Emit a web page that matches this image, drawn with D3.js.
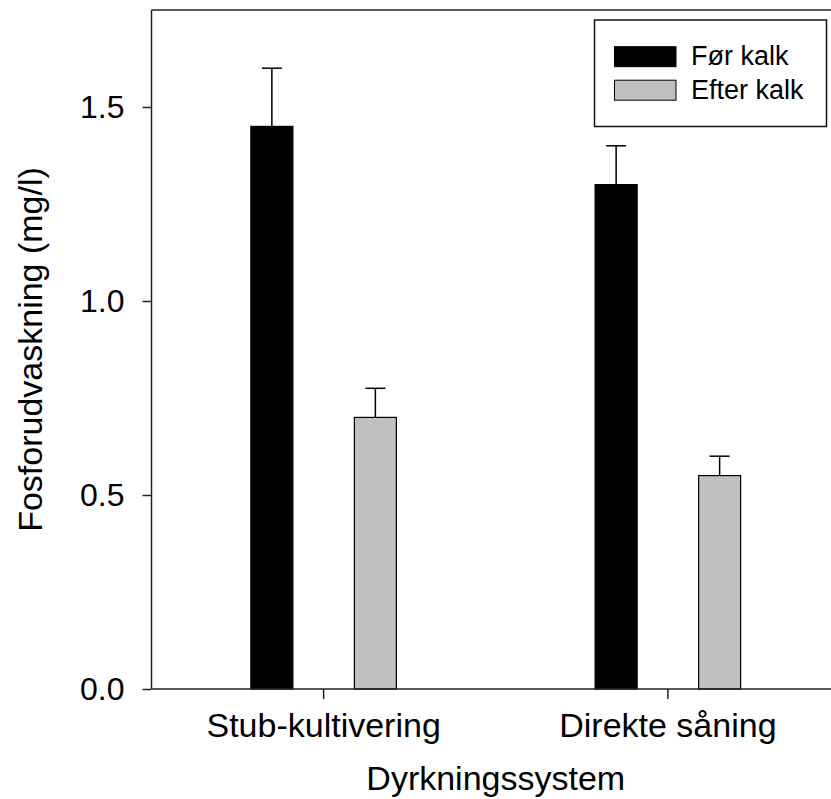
<!DOCTYPE html>
<html>
<head>
<meta charset="utf-8">
<script src="https://cdn.jsdelivr.net/npm/d3@7"></script>
<style>
  html, body { margin: 0; padding: 0; background: #fff; }
  svg { display: block; font-family: "Liberation Sans", Arial, sans-serif; }
</style>
</head>
<body>
<svg id="chart" width="831" height="799"></svg>
<script>
// ---- data ----
const categories = ["Stub-kultivering", "Direkte såning"];
const seriesNames = ["Før kalk", "Efter kalk"];
const forKalk = [1.45, 1.30];
const forKalkErr = [0.15, 0.10];
const efterKalk = [0.70, 0.55];
const efterKalkErr = [0.075, 0.05];
const yTicks = [0.0, 0.5, 1.0, 1.5];
const yTitle = "Fosforudvaskning (mg/l)";
const xTitle = "Dyrkningssystem";
const colors = ["#000000", "#c0c0c0"];

const seriesVals = [forKalk, efterKalk];
const seriesErr = [forKalkErr, efterKalkErr];

const svg = d3.select("#chart");
const pL = 151.5, pR = 840, pT = 10, pB = 689;

const y = d3.scaleLinear().domain([0, 1.75]).range([pB, pT]);
const x0 = d3.scaleBand().domain(categories).range([pL, pR]).padding(0);
const x1 = d3.scaleBand().domain(seriesNames).range([-72.75, 72.75])
  .paddingInner(61.5 / 103.5).paddingOuter(0);

const axisColor = "#222";

// bars
const data = [];
categories.forEach((c, i) => {
  seriesNames.forEach((s, j) => {
    data.push({ cat: c, ser: s, v: seriesVals[j][i], e: seriesErr[j][i], col: colors[j] });
  });
});

const g = svg.append("g");
g.selectAll("rect.bar").data(data).enter().append("rect")
  .attr("class", "bar")
  .attr("x", d => x0(d.cat) + x0.bandwidth() / 2 + x1(d.ser))
  .attr("y", d => y(d.v))
  .attr("width", x1.bandwidth())
  .attr("height", d => y(0) - y(d.v))
  .attr("fill", d => d.col)
  .attr("stroke", "#000")
  .attr("stroke-width", 1.2);

// error bars
const capW = 20;
data.forEach(d => {
  const cx = x0(d.cat) + x0.bandwidth() / 2 + x1(d.ser) + x1.bandwidth() / 2;
  g.append("line").attr("x1", cx).attr("x2", cx)
    .attr("y1", y(d.v)).attr("y2", y(d.v + d.e))
    .attr("stroke", "#000").attr("stroke-width", 1.5);
  g.append("line").attr("x1", cx - capW / 2).attr("x2", cx + capW / 2)
    .attr("y1", y(d.v + d.e)).attr("y2", y(d.v + d.e))
    .attr("stroke", "#000").attr("stroke-width", 1.5);
});

// y axis
const yAxis = d3.axisLeft(y).tickValues(yTicks).tickFormat(d3.format(".1f"))
  .tickSize(9).tickPadding(18);
const yg = svg.append("g").attr("transform", `translate(${pL},0)`).call(yAxis);
yg.select(".domain").remove();
yg.selectAll(".tick line").attr("stroke", axisColor).attr("stroke-width", 1.5);
yg.selectAll(".tick text").attr("fill", "#000").style("font-size", "32px")
  .style("font-family", "Liberation Sans, Arial, sans-serif");

// x axis
const xAxis = d3.axisBottom(x0).tickSize(10).tickPadding(14);
const xg = svg.append("g").attr("transform", `translate(0,${pB})`).call(xAxis);
xg.select(".domain").remove();
xg.selectAll(".tick line").attr("stroke", axisColor).attr("stroke-width", 1.5);
xg.selectAll(".tick text").attr("fill", "#000").style("font-size", "34px")
  .style("font-family", "Liberation Sans, Arial, sans-serif");

// frame lines (left, top, bottom)
svg.append("line").attr("x1", pL).attr("x2", pL).attr("y1", pT).attr("y2", pB)
  .attr("stroke", axisColor).attr("stroke-width", 1.5);
svg.append("line").attr("x1", pL).attr("x2", pR).attr("y1", pT).attr("y2", pT)
  .attr("stroke", axisColor).attr("stroke-width", 1.5);
svg.append("line").attr("x1", pL).attr("x2", pR).attr("y1", pB).attr("y2", pB)
  .attr("stroke", axisColor).attr("stroke-width", 1.5);

// axis titles
svg.append("text").attr("x", (pL + pR) / 2).attr("y", 790)
  .attr("text-anchor", "middle").style("font-size", "34px").text(xTitle);
svg.append("text")
  .attr("transform", `translate(42,${(pT + pB) / 2}) rotate(-90)`)
  .attr("text-anchor", "middle").style("font-size", "34px").text(yTitle);

// legend
const lg = svg.append("g");
lg.append("rect").attr("x", 594.5).attr("y", 20).attr("width", 232).attr("height", 106.5)
  .attr("fill", "#fff").attr("stroke", "#111").attr("stroke-width", 1.5);
seriesNames.forEach((s, j) => {
  const yy = 46.7 + j * 33.5;
  lg.append("rect").attr("x", 614.5).attr("y", yy).attr("width", 61.5).attr("height", 20)
    .attr("fill", colors[j]).attr("stroke", "#000").attr("stroke-width", 1);
  lg.append("text").attr("x", 691).attr("y", yy + 18.7)
    .style("font-size", "27px").attr("fill", "#000").text(s);
});
</script>
</body>
</html>
